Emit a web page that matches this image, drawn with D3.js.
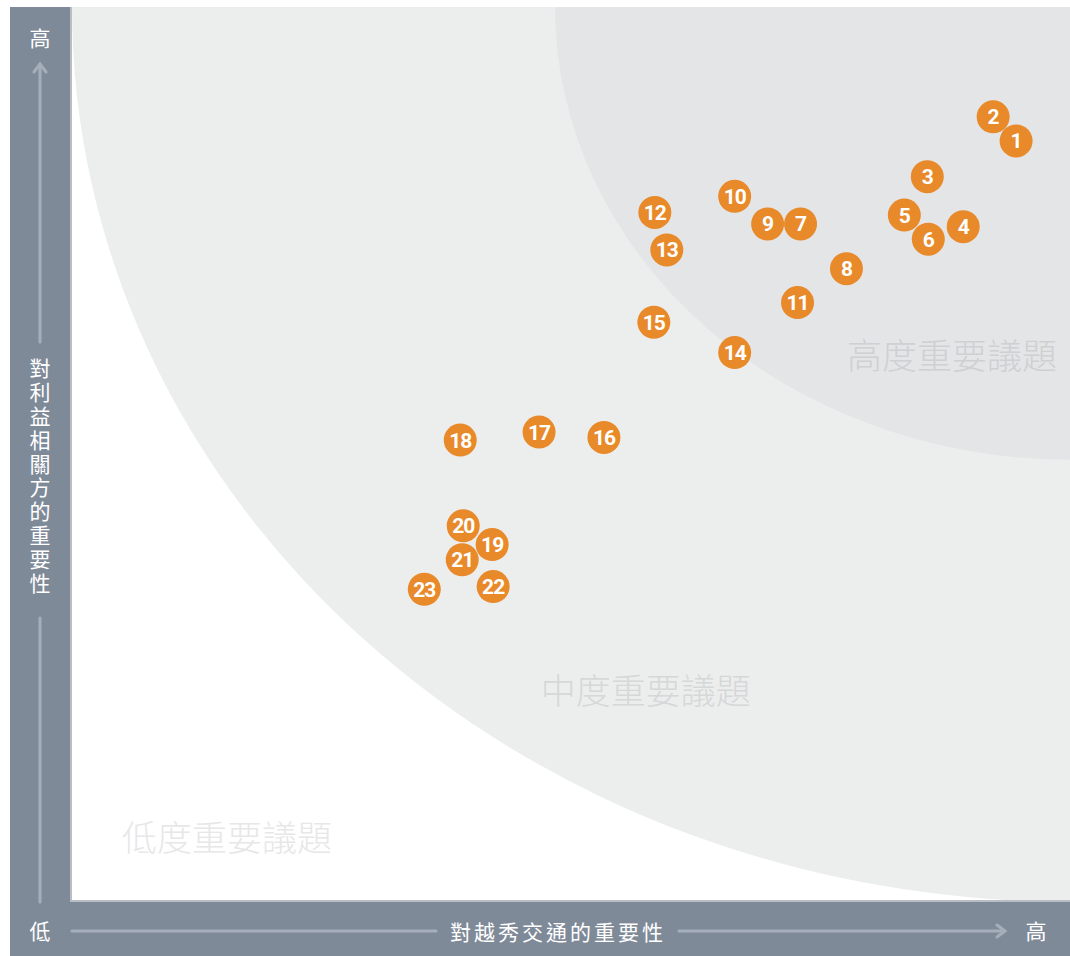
<!DOCTYPE html>
<html><head><meta charset="utf-8">
<script src="https://cdn.jsdelivr.net/npm/d3@7"></script>
<style>html,body{margin:0;padding:0;background:#fff;}svg{display:block;}</style>
</head><body>
<script>
// ---- data ----
const issueIds = [1,2,3,4,5,6,7,8,9,10,11,12,13,14,15,16,17,18,19,20,21,22,23];
// importance to Yuexiu Transport (x, 0-100)
const importanceCompany = [94.6,92.3,85.7,89.3,83.4,85.8,73.0,77.6,69.7,66.4,72.7,58.4,59.6,66.4,58.3,53.3,46.8,38.9,42.1,39.2,39.1,42.2,35.3];
// importance to stakeholders (y, 0-100)
const importanceStakeholder = [85.0,87.7,81.0,75.4,76.7,74.0,75.7,70.7,75.7,78.8,66.9,77.0,72.8,61.3,64.7,51.8,52.4,51.5,39.8,41.9,38.1,35.1,34.8];
const zoneLabels = ["高度重要議題","中度重要議題","低度重要議題"];
// quarter-ellipse radii [x, y] (data units) from the top-right corner
const zoneRadiiX = [51.6, 100.0];
const zoneRadiiY = [50.7, 100.2];
const xAxisTitle = "對越秀交通的重要性";
const yAxisTitle = "對利益相關方的重要性";
const lowLabel = "低", highLabel = "高";

// ---- layout ----
const W = 1070, H = 956;
const plot = {x0:72, x1:1070, y0:7, y1:900};
const svg = d3.select("body").append("svg").attr("width",W).attr("height",H);
const x = d3.scaleLinear().domain([0,100]).range([plot.x0, plot.x1]);
const y = d3.scaleLinear().domain([0,100]).range([plot.y1, plot.y0]);

const defs = svg.append("defs");
defs.append("clipPath").attr("id","plotclip").append("rect")
  .attr("x",plot.x0).attr("y",plot.y0).attr("width",plot.x1-plot.x0).attr("height",plot.y1-plot.y0);
defs.append("filter").attr("id","soft").append("feGaussianBlur").attr("stdDeviation",0.6);

// plot background
svg.append("rect").attr("x",plot.x0).attr("y",plot.y0).attr("width",plot.x1-plot.x0).attr("height",plot.y1-plot.y0).attr("fill","#ffffff");
const zones = svg.append("g").attr("clip-path","url(#plotclip)");
const zoneFills = ["#e4e5e7","#eceeed"];
[1,0].forEach(i=>{
  zones.append("ellipse")
    .attr("cx", x(100)).attr("cy", y(100))
    .attr("rx", x(zoneRadiiX[i])-x(0)).attr("ry", y(0)-y(zoneRadiiY[i]))
    .attr("fill", zoneFills[i]);
});

// zone labels
const zoneFont = "'Noto Sans CJK TC','Noto Sans CJK SC',sans-serif";
svg.append("text").attr("x", x(98.7)).attr("y", y(59.5)).attr("text-anchor","end")
  .attr("font-family",zoneFont).attr("font-size",35).attr("font-weight",300).attr("fill","#cfd0d2").text(zoneLabels[0]);
svg.append("text").attr("x", x(57.5)).attr("y", y(22.0)).attr("text-anchor","middle")
  .attr("font-family",zoneFont).attr("font-size",35).attr("font-weight",300).attr("fill","#d6d7d8").text(zoneLabels[1]);
svg.append("text").attr("x", x(5.0)).attr("y", y(5.5)).attr("text-anchor","start")
  .attr("font-family",zoneFont).attr("font-size",35).attr("font-weight",300).attr("fill","#e7e7e8").text(zoneLabels[2]);

// axis frame bars
const barColor = "#7f8a99";
svg.append("rect").attr("x",10).attr("y",7).attr("width",plot.x0-10).attr("height",H-7).attr("fill",barColor);
svg.append("rect").attr("x",10).attr("y",plot.y1).attr("width",W-10).attr("height",H-plot.y1).attr("fill",barColor);
svg.append("rect").attr("x",plot.x0-2).attr("y",plot.y0).attr("width",2).attr("height",plot.y1-plot.y0+2).attr("fill","#b9bec6");
svg.append("rect").attr("x",plot.x0-2).attr("y",plot.y1).attr("width",W-plot.x0+2).attr("height",2).attr("fill","#b9bec6");

// axis arrows
const lineCol = "#a7aebb";
const ax = svg.append("g").attr("stroke",lineCol).attr("fill","none").attr("stroke-linecap","round");
ax.append("line").attr("x1",40).attr("x2",40).attr("y1",64).attr("y2",342).attr("stroke-width",3);
ax.append("line").attr("x1",40).attr("x2",40).attr("y1",618).attr("y2",902).attr("stroke-width",3);
ax.append("path").attr("d","M34,72 L40,64 L46,72").attr("stroke-width",3);
ax.append("line").attr("x1",72).attr("x2",436).attr("y1",931).attr("y2",931).attr("stroke-width",3);
ax.append("line").attr("x1",679).attr("x2",1004).attr("y1",931).attr("y2",931).attr("stroke-width",3);
ax.append("path").attr("d","M997,925 L1005,931 L997,937").attr("stroke-width",3);

const axFont = "'Noto Sans CJK TC','Noto Sans CJK SC',sans-serif";
svg.append("text").attr("x",40).attr("y",37).attr("text-anchor","middle").attr("dominant-baseline","central")
  .attr("font-family",axFont).attr("font-size",21).attr("fill","#ffffff").text(highLabel);
svg.append("text").attr("x",40).attr("y",930).attr("text-anchor","middle").attr("dominant-baseline","central")
  .attr("font-family",axFont).attr("font-size",21).attr("fill","#ffffff").text(lowLabel);
svg.append("text").attr("x",1036).attr("y",930).attr("text-anchor","middle").attr("dominant-baseline","central")
  .attr("font-family",axFont).attr("font-size",21).attr("fill","#ffffff").text(highLabel);
svg.append("text").attr("x",558).attr("y",931).attr("text-anchor","middle").attr("dominant-baseline","central")
  .attr("font-family",axFont).attr("font-size",21).attr("letter-spacing",3).attr("fill","#ffffff").text(xAxisTitle);
svg.append("text").attr("x",40).attr("y",358)
  .attr("font-family",axFont).attr("font-size",21).attr("letter-spacing",2.8).attr("fill","#ffffff")
  .style("writing-mode","vertical-rl").style("text-orientation","upright")
  .text(yAxisTitle);

// points
const pts = issueIds.map((id,i)=>({id, cx:importanceCompany[i], cy:importanceStakeholder[i]}));
const g = svg.append("g").selectAll("g").data(pts).join("g")
  .attr("transform", d=>`translate(${x(d.cx)},${y(d.cy)})`);
g.append("circle").attr("r",16.5).attr("fill","#e8892b").attr("filter","url(#soft)");
g.append("text").attr("text-anchor","middle").attr("dominant-baseline","central").attr("dy",0.5)
  .attr("font-family","Roboto, 'DejaVu Sans', sans-serif").attr("font-weight",700)
  .attr("font-size",21).attr("letter-spacing",-1).attr("fill","#ffffff").text(d=>d.id);
</script>
</body></html>
